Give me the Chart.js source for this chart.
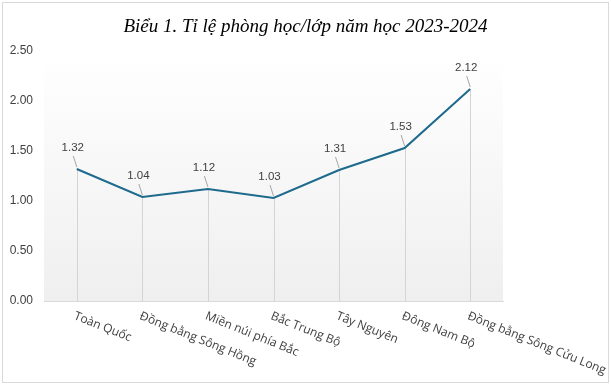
<!DOCTYPE html>
<html>
<head>
<meta charset="utf-8">
<script src="https://cdn.jsdelivr.net/npm/chart.js@4"></script>
<style>
    html, body { margin: 0; padding: 0; background: #fff; }
    #wrap { width: 611px; height: 385px; }
</style>
</head>
<body>
<div id="wrap"><canvas id="myChart" width="611" height="385"></canvas></div>
<script>
var chartTitle = 'Biểu 1. Tỉ lệ phòng học/lớp năm học 2023-2024';
var regions = ['Toàn Quốc', 'Đồng bằng Sông Hồng', 'Miền núi phía Bắc', 'Bắc Trung Bộ', 'Tây Nguyên', 'Đông Nam Bộ', 'Đồng bằng Sông Cửu Long'];
var ratios = [1.32, 1.04, 1.12, 1.03, 1.31, 1.53, 2.12];
var yTicks = [0, 0.5, 1, 1.5, 2, 2.5];

// frame, title, plot background and drop lines
var decorPlugin = {
    id: 'decor',
    beforeDraw: function (chart) {
        var ctx = chart.ctx;
        var area = chart.chartArea;
        ctx.save();
        ctx.strokeStyle = '#d9d9d9';
        ctx.lineWidth = 1;
        ctx.strokeRect(2.5, 2.5, chart.width - 5, chart.height - 5);

        var grad = ctx.createLinearGradient(0, area.top, 0, area.bottom);
        grad.addColorStop(0, '#ffffff');
        grad.addColorStop(0.25, '#fbfbfb');
        grad.addColorStop(1, '#efefef');
        ctx.fillStyle = grad;
        ctx.fillRect(area.left, area.top, area.right - area.left, area.bottom - area.top);

        ctx.fillStyle = '#000';
        ctx.font = 'italic 19px "Liberation Serif", "DejaVu Serif", serif';
        ctx.textAlign = 'center';
        ctx.textBaseline = 'alphabetic';
        ctx.fillText(chartTitle, chart.width / 2, 32);
        ctx.restore();
    },
    beforeDatasetsDraw: function (chart) {
        var ctx = chart.ctx;
        var meta = chart.getDatasetMeta(0);
        ctx.save();
        ctx.strokeStyle = '#d4d4d4';
        ctx.lineWidth = 1;
        meta.data.forEach(function (pt) {
            var x = Math.round(pt.x) + 0.5;
            ctx.beginPath();
            ctx.moveTo(x, pt.y);
            ctx.lineTo(x, chart.chartArea.bottom);
            ctx.stroke();
        });
        ctx.restore();
    },
    afterDatasetsDraw: function (chart) {
        var ctx = chart.ctx;
        var meta = chart.getDatasetMeta(0);
        var xScale = chart.scales.x;
        ctx.save();
        // data labels with leader lines
        meta.data.forEach(function (pt, i) {
            var lx = pt.x - 4;
            var ly = pt.y - 21;
            ctx.strokeStyle = '#a6a6a6';
            ctx.lineWidth = 1;
            ctx.beginPath();
            ctx.moveTo(lx + 0.5, ly + 8);
            ctx.lineTo(pt.x, pt.y - 2);
            ctx.stroke();
            ctx.fillStyle = '#404040';
            ctx.font = '11.5px "Liberation Sans", Arial, sans-serif';
            ctx.textAlign = 'center';
            ctx.textBaseline = 'middle';
            ctx.fillText(ratios[i].toFixed(2), lx, ly);
        });
        // rotated category labels
        ctx.fillStyle = '#404040';
        ctx.font = '12px "Open Sans", "Noto Sans", sans-serif';
        ctx.textAlign = 'left';
        ctx.textBaseline = 'top';
        regions.forEach(function (name, i) {
            var x = xScale.getPixelForValue(i);
            ctx.save();
            ctx.translate(x, chart.chartArea.bottom + 9);
            ctx.rotate(22 * Math.PI / 180);
            ctx.fillText(name, 0, 0);
            ctx.restore();
        });
        ctx.restore();
    }
};

var ctx = document.getElementById('myChart').getContext('2d');
var myChart = new Chart(ctx, {
    type: 'line',
    data: {
        labels: regions,
        datasets: [{
            data: ratios,
            borderColor: '#1d6a8d',
            borderWidth: 2,
            pointRadius: 0,
            tension: 0,
            fill: false
        }]
    },
    options: {
        responsive: false,
        animation: false,
        devicePixelRatio: 1,
        layout: {
            padding: { left: 0, right: 108, top: 51, bottom: 0 }
        },
        plugins: {
            legend: { display: false },
            title: { display: false },
            tooltip: { enabled: false }
        },
        scales: {
            x: {
                type: 'category',
                offset: true,
                grid: { display: false, drawTicks: false },
                border: { display: true, color: '#d9d9d9', width: 1 },
                ticks: { display: false },
                afterFit: function (scale) { scale.height = 84; }
            },
            y: {
                min: 0,
                max: 2.5,
                afterBuildTicks: function (scale) {
                    scale.ticks = yTicks.map(function (v) { return { value: v }; });
                },
                grid: { display: false, drawTicks: false },
                border: { display: false },
                ticks: {
                    padding: 11,
                    color: '#404040',
                    font: { family: '"Liberation Sans", Arial, sans-serif', size: 12 },
                    callback: function (v) { return Number(v).toFixed(2); }
                },
                afterFit: function (scale) { scale.width = 44; }
            }
        }
    },
    plugins: [decorPlugin]
});
</script>
</body>
</html>
